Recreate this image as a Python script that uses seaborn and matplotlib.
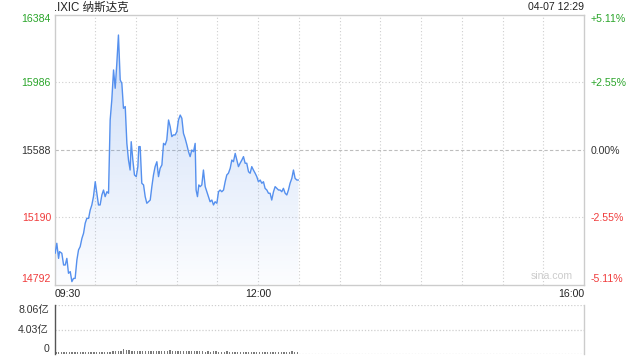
import numpy as np
import pandas as pd
import matplotlib
matplotlib.use("Agg")
import matplotlib.pyplot as plt
import seaborn as sns

# ---------------- data ----------------
minutes = [0.5, 1.7, 3.0, 3.7, 5.4, 6.7, 7.9, 9.1, 10.3, 11.6,
           12.8, 14.0, 15.2, 16.5, 17.7, 18.9, 20.2, 21.4, 22.6, 23.8,
           25.1, 26.3, 27.5, 28.7, 30.0, 31.2, 32.4, 33.6, 34.9, 36.1,
           37.3, 38.6, 39.8, 41.0, 42.2, 43.5, 44.7, 45.9, 47.1, 48.4,
           49.6, 50.8, 52.1, 53.3, 54.5, 55.7, 56.5, 57.7, 58.9, 60.2,
           61.4, 62.1, 63.1, 64.3, 65.6, 66.8, 68.0, 69.2, 70.5, 71.7,
           72.9, 74.1, 75.4, 76.6, 77.8, 79.1, 80.3, 81.5, 82.7, 84.0,
           85.2, 86.4, 87.6, 88.9, 90.1, 91.3, 92.6, 93.8, 95.0, 96.2,
           97.5, 98.7, 99.9, 101.1, 102.4, 103.6, 104.3, 105.3, 106.3, 107.3,
           108.5, 109.7, 111.0, 112.2, 113.4, 114.6, 115.9, 117.1, 118.3, 119.6,
           120.8, 122.0, 123.2, 124.5, 125.7, 126.9, 128.1, 129.4, 130.6, 131.8,
           133.1, 134.3, 135.5, 136.7, 138.0, 139.2, 140.4, 141.6, 142.9, 144.1,
           145.3, 146.5, 147.8, 149.0, 150.2, 151.5, 152.7, 153.9, 155.1, 156.4,
           157.6, 158.8, 160.0, 161.3, 162.5, 163.7, 165.0, 166.2, 167.4, 168.6,
           169.9, 171.1, 172.3, 173.5, 174.8, 176.0, 177.2, 178.5, 179.7]

prices = [14976, 15035, 14946, 14986, 14976, 14907, 14907, 14946, 14858, 14868,
          14809, 14828, 14828, 14937, 14996, 15015, 15064, 15094, 15153, 15182,
          15182, 15231, 15261, 15310, 15398, 15330, 15261, 15261, 15320, 15349,
          15310, 15339, 15330, 15762, 15880, 16057, 15949, 16096, 16263, 15998,
          15978, 15831, 15841, 15624, 15526, 15467, 15634, 15526, 15438, 15428,
          15487, 15605, 15605, 15389, 15379, 15310, 15271, 15280, 15290, 15369,
          15438, 15487, 15516, 15428, 15477, 15497, 15624, 15615, 15644, 15762,
          15723, 15664, 15674, 15674, 15693, 15762, 15791, 15772, 15683, 15654,
          15615, 15575, 15546, 15585, 15575, 15624, 15349, 15310, 15379, 15369,
          15379, 15467, 15369, 15339, 15310, 15280, 15290, 15261, 15280, 15271,
          15339, 15349, 15339, 15349, 15398, 15438, 15448, 15477, 15526, 15516,
          15565, 15526, 15487, 15507, 15526, 15546, 15507, 15507, 15457, 15448,
          15487, 15467, 15448, 15428, 15398, 15408, 15389, 15398, 15359, 15349,
          15330, 15330, 15290, 15339, 15369, 15359, 15349, 15349, 15339, 15359,
          15330, 15320, 15349, 15389, 15418, 15467, 15418, 15408, 15408]

# volume (亿), one bar every 2 minutes
vol_minutes = list(range(1, 180, 2))
volumes = [0.28, 0.32, 0.34, 0.32, 0.34, 0.32, 0.34, 0.34, 0.32, 0.34,
           0.34, 0.32, 0.34, 0.38, 0.34, 0.36, 0.38, 0.34, 0.38, 0.38,
           0.40, 0.45, 0.48, 0.45, 0.55, 0.75, 0.65, 0.60, 0.55, 0.50,
           0.48, 0.45, 0.48, 0.45, 0.45, 0.42, 0.45, 0.48, 0.45, 0.42,
           0.48, 0.45, 0.58, 0.50, 0.45, 0.48, 0.42, 0.45, 0.42, 0.45,
           0.48, 0.55, 0.48, 0.42, 0.45, 0.38, 0.42, 0.38, 0.48, 0.42,
           0.38, 0.35, 0.38, 0.42, 0.35, 0.38, 0.35, 0.32, 0.35, 0.38,
           0.35, 0.32, 0.35, 0.32, 0.35, 0.32, 0.32, 0.35, 0.32, 0.32,
           0.35, 0.32, 0.32, 0.35, 0.32, 0.35, 0.38, 0.45, 0.35, 0.28]

price_ticks = [14792, 15190, 15588, 15986, 16384]
price_labels = ["14792", "15190", "15588", "15986", "16384"]
pct_labels = ["-5.11%", "-2.55%", "0.00%", "+2.55%", "+5.11%"]
tick_colors = ["#f03c3c", "#f03c3c", "#333333", "#2aa52a", "#2aa52a"]
time_ticks = [0, 150, 390]
time_labels = ["09:30", "12:00", "16:00"]
vol_ticks = [0, 4.03, 8.06]
vol_labels = ["0", "4.03亿", "8.06亿"]

title = ".IXIC 纳斯达克"
stamp = "04-07 12:29"

# ---------------- style ----------------
sns.set_theme(style="white")
plt.rcParams["font.family"] = ["Liberation Sans", "Noto Sans CJK SC", "DejaVu Sans"]

W, H = 640, 360
fig = plt.figure(figsize=(6.4, 3.6), dpi=100)
L, R = 54.5, 584
ax = fig.add_axes([L / W, 1 - 284.5 / H, (R - L) / W, 270 / H])
axv = fig.add_axes([L / W, 1 - 354 / H, (R - L) / W, 49 / H])

LINE = "#5590ee"
GRID = "#cfcfcf"
ymin, ymax = price_ticks[0], price_ticks[-1]

df = pd.DataFrame({"minute": minutes, "price": prices})

# gradient area fill under the line
poly = ax.fill_between(df["minute"], df["price"], ymin, color="none", lw=0)
grad = np.zeros((256, 1, 4))
grad[:, 0, 0] = 74 / 255
grad[:, 0, 1] = 134 / 255
grad[:, 0, 2] = 232 / 255
grad[:, 0, 3] = np.linspace(0.02, 0.30, 256)
im = ax.imshow(grad, extent=[0, 390, ymin, ymax], origin="lower",
               aspect="auto", zorder=1)
im.set_clip_path(poly.get_paths()[0], transform=ax.transData)

sns.lineplot(data=df, x="minute", y="price", ax=ax, color=LINE,
             lw=1.0, sort=False, estimator=None, zorder=3)

ax.set_xlim(0, 390)
ax.set_ylim(ymin, ymax)

# grid
for v in price_ticks[1:-1]:
    if v == 15588:
        ax.axhline(v, color="#bdbdbd", lw=0.8, ls=(0, (3, 2)), zorder=0)
    else:
        ax.axhline(v, color=GRID, lw=0.8, ls=(0, (1, 2)), zorder=0)
for m in range(30, 390, 30):
    ax.axvline(m, color=GRID, lw=0.8, ls=(0, (1, 2)), zorder=0)

for s in ax.spines.values():
    s.set_color("#cccccc")
    s.set_linewidth(1)

ax.set_xlabel("")
ax.set_ylabel("")
ax.set_yticks(price_ticks)
ax.set_yticklabels(price_labels)
ax.tick_params(axis="y", length=0, pad=2.5, labelsize=7.6)
for lab, c in zip(ax.get_yticklabels(), tick_colors):
    lab.set_color(c)
ax.get_yticklabels()[0].set_va("bottom")
ax.get_yticklabels()[-1].set_va("top")

ax.set_xticks(time_ticks)
ax.set_xticklabels(time_labels)
ax.tick_params(axis="x", length=0, pad=3, labelsize=7.6, labelcolor="#222222")
xl = ax.get_xticklabels()
xl[0].set_ha("left")
xl[-1].set_ha("right")

ax2 = ax.twinx()
ax2.set_ylim(ymin, ymax)
ax2.set_yticks(price_ticks)
ax2.set_yticklabels(pct_labels)
ax2.tick_params(axis="y", length=0, pad=4.5, labelsize=7.6)
for lab, c in zip(ax2.get_yticklabels(), tick_colors):
    lab.set_color(c)
ax2.get_yticklabels()[0].set_va("bottom")
ax2.get_yticklabels()[-1].set_va("top")
for s in ax2.spines.values():
    s.set_visible(False)
ax2.grid(False)

ax.text(0.979, 0.012, "sina.com", transform=ax.transAxes, ha="right",
        va="bottom", fontsize=7.6, color="#cccccc")

# volume panel
axv.bar(vol_minutes, volumes, width=1.0, color="#7a7a7a", lw=0)
axv.set_xlim(0, 390)
axv.set_ylim(0, 8.06)
for v in vol_ticks:
    axv.axhline(v, color=GRID, lw=0.9, ls=(0, (1, 1.5)), zorder=0)
axv.spines["top"].set_visible(False)
axv.spines["bottom"].set_visible(False)
axv.spines["left"].set_color("#555555")
axv.spines["left"].set_linewidth(1)
axv.spines["right"].set_color("#cccccc")
axv.spines["right"].set_linewidth(1)
axv.set_xticks([])
axv.set_yticks(vol_ticks)
axv.set_yticklabels(vol_labels)
axv.tick_params(axis="y", length=0, pad=4, labelsize=7.6, labelcolor="#333333")
vl = axv.get_yticklabels()
vl[0].set_va("bottom")
vl[-1].set_va("top")

fig.text(L / W, 1 - 7.5 / H, title, ha="left", va="center",
         fontsize=8.3, color="#222222")
fig.text(R / W, 1 - 7.5 / H, stamp, ha="right", va="center",
         fontsize=7.6, color="#222222")

fig.savefig("out.png", dpi=100)
